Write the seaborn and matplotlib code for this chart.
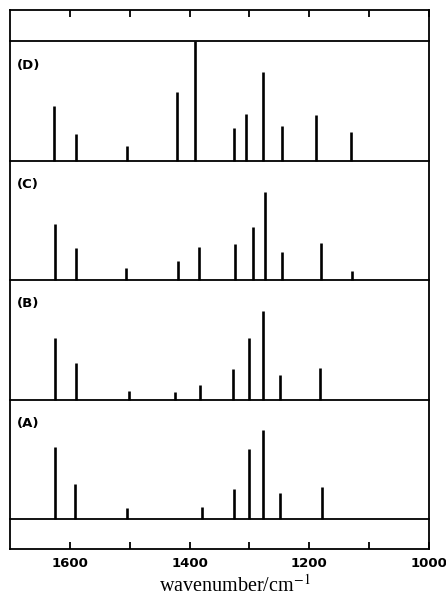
import matplotlib
matplotlib.use("Agg")
import matplotlib.pyplot as plt
import seaborn as sns
import pandas as pd

# band positions (cm-1) and stick heights
wn_a = [1624, 1591, 1504, 1379, 1326, 1300, 1277, 1249, 1178]
int_a = [72, 35, 11, 12, 30, 70, 89, 26, 32]

wn_b = [1625, 1589, 1502, 1424, 1382, 1327, 1300, 1277, 1249, 1182]
int_b = [62, 37, 9, 8, 15, 31, 62, 89, 25, 32]

wn_c = [1625, 1590, 1506, 1419, 1385, 1324, 1294, 1274, 1245, 1180, 1129]
int_c = [56, 32, 12, 19, 33, 36, 53, 88, 28, 37, 9]

wn_d = [1626, 1590, 1504, 1421, 1391, 1326, 1306, 1278, 1246, 1188, 1131]
int_d = [55, 27, 15, 69, 119.5, 33, 47, 89, 35, 46, 29]

panel_names = ["(D)", "(C)", "(B)", "(A)"]
tick_pos = [1600, 1400, 1200, 1000]
tick_labels = ["1600", "1400", "1200", "1000"]

df = pd.concat([
    pd.DataFrame({"panel": "(A)", "wn": wn_a, "intensity": int_a}),
    pd.DataFrame({"panel": "(B)", "wn": wn_b, "intensity": int_b}),
    pd.DataFrame({"panel": "(C)", "wn": wn_c, "intensity": int_c}),
    pd.DataFrame({"panel": "(D)", "wn": wn_d, "intensity": int_d}),
])

sns.set_style("ticks")
plt.rcParams["font.family"] = ["DejaVu Sans"]
plt.rcParams["text.color"] = "black"
plt.rcParams["xtick.color"] = "black"
plt.rcParams["xtick.labelcolor"] = "black"

W, H = 446, 604
fig = plt.figure(figsize=(W / 100, H / 100), dpi=100)

left, right, top, bottom = 10, 429, 10, 549
lw = 1.3

# outer frame with ticks top and bottom
frame = fig.add_axes([left / W, (H - bottom) / H, (right - left) / W, (bottom - top) / H])
frame.set_xlim(1700, 1000)
frame.set_ylim(0, 1)
frame.set_yticks([])
frame.set_xticks(tick_pos)
frame.set_xticklabels(tick_labels, fontweight="bold")
frame.set_xticks([1500, 1300, 1100], minor=True)
frame.tick_params(axis="x", which="both", direction="in", top=True, bottom=True,
                  length=5, width=lw, pad=6, labelsize=9.5)
for s in frame.spines.values():
    s.set_linewidth(lw)
    s.set_color("black")
frame.set_facecolor("white")

fig.text(235 / W, (H - 586) / H, "wavenumber/cm$^{-1}$", ha="center", va="center",
         fontsize=14.5, family="Liberation Serif", math_fontfamily="stix")

panel_top = 41
panel_h = 119.5
for i, name in enumerate(panel_names):
    y0 = panel_top + i * panel_h
    ax = fig.add_axes([left / W, (H - y0 - panel_h) / H, (right - left) / W, panel_h / H])
    ax.patch.set_alpha(0)
    sub = df[df["panel"] == name]
    ax.vlines(sub["wn"], 0, sub["intensity"], color="black", linewidth=1.9, clip_on=False)
    ax.set_xlim(1700, 1000)
    ax.set_ylim(0, panel_h)
    ax.set_xticks([])
    ax.set_yticks([])
    for side in ["left", "right", "top"]:
        ax.spines[side].set_visible(False)
    if i == 0:
        ax.spines["top"].set_visible(True)
        ax.spines["top"].set_linewidth(lw)
        ax.spines["top"].set_color("black")
    ax.spines["bottom"].set_linewidth(lw)
    ax.spines["bottom"].set_color("black")
    ax.text(7 / 419, 1 - 24 / panel_h, name, transform=ax.transAxes, ha="left",
            va="center", fontsize=9.5, fontweight="bold", color="black")

fig.savefig("out.png", dpi=100)
